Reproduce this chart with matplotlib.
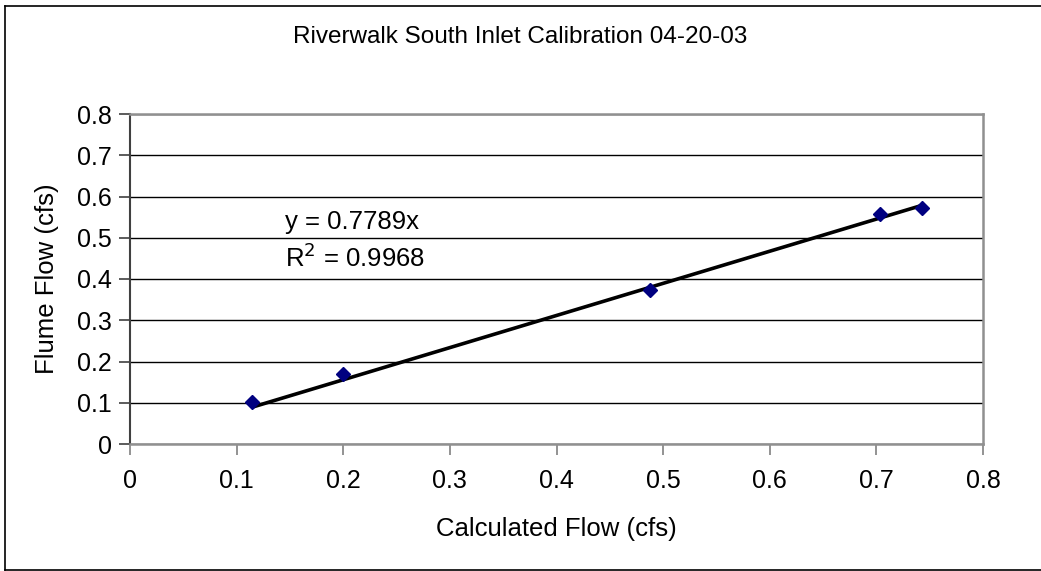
import matplotlib
matplotlib.use("Agg")
import matplotlib.pyplot as plt
from matplotlib.lines import Line2D
import numpy as np

plt.rcParams['font.family'] = ['Liberation Sans', 'DejaVu Sans']

calc_flow = [0.114, 0.200, 0.488, 0.703, 0.743]
flume_flow = [0.102, 0.170, 0.373, 0.557, 0.572]
slope = 0.7789
r2 = 0.9968
tick_vals = [0, 0.1, 0.2, 0.3, 0.4, 0.5, 0.6, 0.7, 0.8]
tick_labels = ["0", "0.1", "0.2", "0.3", "0.4", "0.5", "0.6", "0.7", "0.8"]
title = "Riverwalk South Inlet Calibration 04-20-03"
xlabel = "Calculated Flow (cfs)"
ylabel = "Flume Flow (cfs)"

W, H = 1041, 571
fig = plt.figure(figsize=(W / 100, H / 100), dpi=100)
fig.patch.set_facecolor('white')

# plot area pixel bounds
L, R, T, B = 130, 983, 114, 444
ax = fig.add_axes([L / W, 1 - B / H, (R - L) / W, (B - T) / H])

ax.set_xlim(0, 0.8)
ax.set_ylim(0, 0.8)
ax.set_xticks(tick_vals)
ax.set_xticklabels(tick_labels)
ax.set_yticks(tick_vals)
ax.set_yticklabels(tick_labels)
ax.tick_params(axis='both', labelsize=18, direction='out', length=8, width=1.2,
               color='#808080', pad=5)
ax.tick_params(axis='x', pad=10)
ax.tick_params(axis='y', color='#404040')

ax.yaxis.grid(True, color='black', linewidth=1.0)
ax.xaxis.grid(False)
ax.set_axisbelow(True)

for side in ['top', 'right', 'bottom']:
    ax.spines[side].set_color('#909090')
    ax.spines[side].set_linewidth(1.8)
ax.spines['left'].set_color('#404040')
ax.spines['left'].set_linewidth(1.5)

# trendline
xs = np.array([min(calc_flow), max(calc_flow)])
ax.plot(xs, slope * xs, color='black', linewidth=2.6, zorder=3, solid_capstyle='butt')

ax.plot(calc_flow, flume_flow, linestyle='none', marker='D', markersize=7.5,
        color='#000080', markeredgecolor='#000080', zorder=4, clip_on=False)

ax.text(0.145, 0.538, "y = %.4fx" % slope, fontsize=18.5, color='black',
        va='center', ha='left', zorder=5)
ax.text(0.145, 0.452, "R$^{2}$ = %.4f" % r2, fontsize=18.5, color='black',
        va='center', ha='left', zorder=5)

ax.set_xlabel(xlabel, fontsize=18.5, labelpad=17.5)
ax.set_ylabel(ylabel, fontsize=18.5, labelpad=13)

fig.text(0.5, 1 - 37 / H, title, fontsize=17.5, ha='center', va='center')

# outer chart frame
lw = 1.2
fig.add_artist(Line2D([5 / W, 5 / W], [1 - 6 / H, 1 - 569.5 / H], color='black', linewidth=lw,
                      transform=fig.transFigure))
fig.add_artist(Line2D([5 / W, 1], [1 - 6 / H, 1 - 6 / H], color='black', linewidth=lw,
                      transform=fig.transFigure))
fig.add_artist(Line2D([5 / W, 1], [1 - 569.5 / H, 1 - 569.5 / H], color='black', linewidth=lw,
                      transform=fig.transFigure))

fig.savefig("out.png", dpi=100, facecolor='white')
